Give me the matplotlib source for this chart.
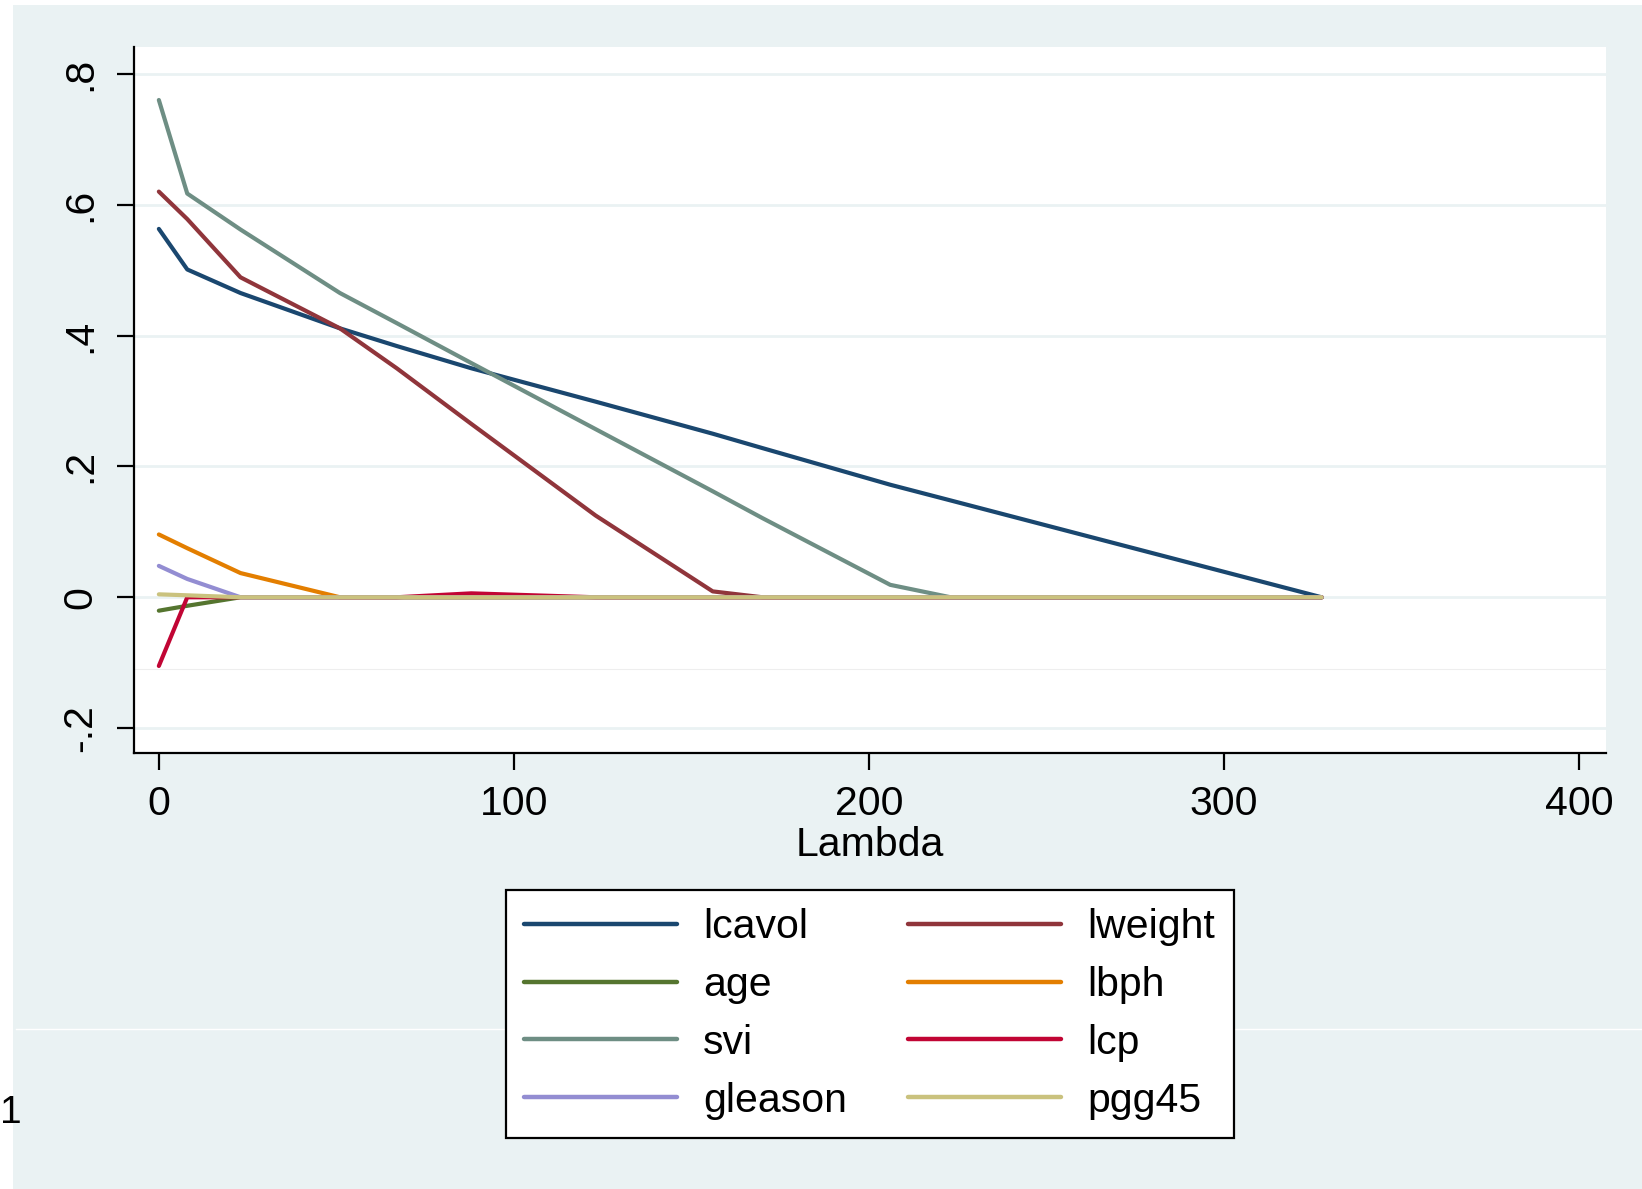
import matplotlib.pyplot as plt
from matplotlib.patches import Rectangle
from matplotlib.lines import Line2D

plt.rcParams['font.family'] = ['Liberation Sans', 'DejaVu Sans']

# lambda grid and coefficient paths
lam = [0, 8, 23, 51, 67, 88, 123, 156, 170, 206, 223, 327.5]

lcavol = [0.563, 0.501, 0.465, 0.411, 0.384, 0.350, 0.299, 0.250, 0.228, 0.172, 0.148, 0.0]
lweight = [0.620, 0.578, 0.489, 0.411, 0.350, 0.265, 0.125, 0.009, 0.0, 0.0, 0.0, 0.0]
age = [-0.0205, -0.013, 0.0, 0.0, 0.0, 0.0, 0.0, 0.0, 0.0, 0.0, 0.0, 0.0]
lbph = [0.096, 0.075, 0.037, 0.0, 0.0, 0.0, 0.0, 0.0, 0.0, 0.0, 0.0, 0.0]
svi = [0.760, 0.617, 0.562, 0.465, 0.419, 0.358, 0.257, 0.162, 0.121, 0.019, 0.0, 0.0]
lcp = [-0.105, 0.0, 0.0, 0.0, 0.0, 0.006, 0.0, 0.0, 0.0, 0.0, 0.0, 0.0]
gleason = [0.048, 0.028, 0.0, 0.0, 0.0, 0.0, 0.0, 0.0, 0.0, 0.0, 0.0, 0.0]
pgg45 = [0.0045, 0.003, 0.0, 0.0, 0.0, 0.0, 0.0, 0.0, 0.0, 0.0, 0.0, 0.0]

names = ['lcavol', 'lweight', 'age', 'lbph', 'svi', 'lcp', 'gleason', 'pgg45']
series = [lcavol, lweight, age, lbph, svi, lcp, gleason, pgg45]
colors = ['#1a476f', '#90353b', '#55752f', '#e37e00',
          '#6e8e84', '#c10534', '#938dd2', '#cac27e']

yticks = [-0.2, 0, 0.2, 0.4, 0.6, 0.8]
ytick_labels = ['-.2', '0', '.2', '.4', '.6', '.8']
xticks = [0, 100, 200, 300, 400]

bg = '#eaf2f3'
fs = 29.5

fig = plt.figure(figsize=(16.42, 11.89), dpi=100, facecolor='white')
fig.patches.append(Rectangle((13 / 1642, 0), 1, (1189 - 5) / 1189,
                             transform=fig.transFigure, facecolor=bg,
                             edgecolor='none', zorder=-10))
fig.lines.append(Line2D([16 / 1642, 1], [(1189 - 1029) / 1189] * 2,
                        transform=fig.transFigure, color='white', lw=1, zorder=-5))

ax = fig.add_axes([134 / 1642, (1189 - 753) / 1189,
                   (1606 - 134) / 1642, (753 - 47) / 1189])
ax.set_facecolor('white')

handles = {}
for name, vals, c in zip(names, series, colors):
    h, = ax.plot(lam, vals, color=c, lw=3.0, solid_capstyle='round',
                 solid_joinstyle='round', zorder=3)
    handles[name] = h

ax.set_xlim(-7.0, 407.6)
ax.set_ylim(-0.238, 0.841)
ax.set_yticks(yticks)
ax.set_yticklabels(ytick_labels)
ax.set_xticks(xticks)
for y in yticks:
    ax.axhline(y, color=bg, lw=2.0, zorder=1)
ax.axhline(-0.11, color='#eeeeee', lw=0.8, zorder=1)

for s in ['top', 'right']:
    ax.spines[s].set_visible(False)
for s in ['left', 'bottom']:
    ax.spines[s].set_linewidth(1.6)
    ax.spines[s].set_color('black')

ax.tick_params(axis='both', length=12, width=1.6, labelsize=fs, colors='black')
ax.tick_params(axis='y', pad=13, labelrotation=90)
for lbl in ax.get_yticklabels():
    lbl.set_va('center')
ax.tick_params(axis='x', pad=11)
ax.set_xlabel('Lambda', fontsize=fs, labelpad=2)

order = ['lcavol', 'age', 'svi', 'gleason', 'lweight', 'lbph', 'lcp', 'pgg45']
leg = fig.legend([handles[n] for n in order], order, ncol=2, loc='center',
                 bbox_to_anchor=((505.8 + 1233.6) / 2 / 1642, 1 - (892 + 1136) / 2 / 1189),
                 fontsize=fs, frameon=True, fancybox=False, framealpha=1,
                 edgecolor='black', handlelength=3.73, handletextpad=0.64,
                 columnspacing=1.5, labelspacing=0.48, borderpad=0.45)
leg.get_frame().set_linewidth(1.6)
for line in leg.get_lines():
    line.set_linewidth(3.2)

fig.text(0, 1 - 1113 / 1189, '1', fontsize=28, ha='left', va='center')

fig.savefig('out.png', dpi=100, facecolor=fig.get_facecolor())
